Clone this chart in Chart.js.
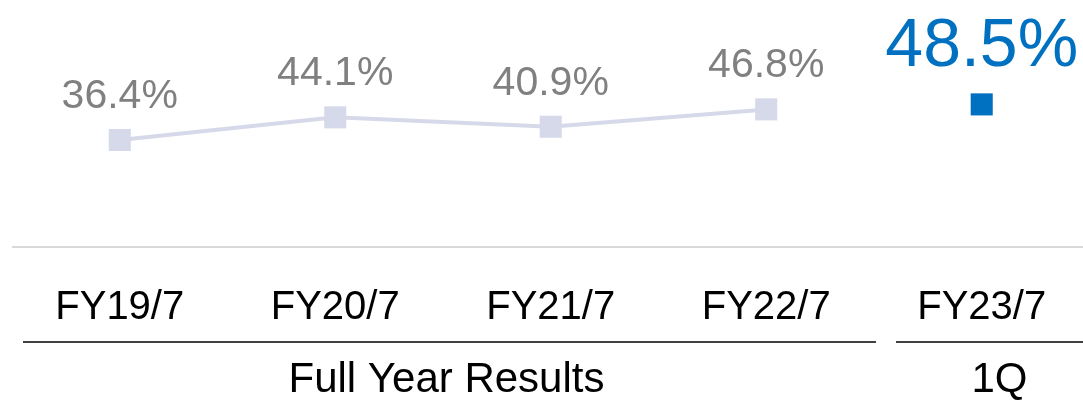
<!DOCTYPE html>
<html>
<head>
<meta charset="utf-8">
<script src="https://cdn.jsdelivr.net/npm/chart.js@4"></script>
<style>
html,body{margin:0;padding:0;background:#fff;}
#wrap{position:relative;width:1083px;height:401px;}
</style>
</head>
<body>
<div id="wrap"><canvas id="c" width="1083" height="401"></canvas></div>
<script>
// ---- data ----
const categories = ['FY19/7', 'FY20/7', 'FY21/7', 'FY22/7', 'FY23/7'];
const fullYearValues = [36.4, 44.1, 40.9, 46.8, null];
const quarterValues = [null, null, null, null, 48.5];
const groupNames = ['Full Year Results', '1Q'];
const groupStart = [0, 4];
const groupEnd = [3, 4];

const FONT = '"Liberation Sans", Arial, Helvetica, sans-serif';

function toXY(arr) {
  return arr.map((v, i) => ({ x: i, y: v })).filter(p => p.y !== null);
}

const labelPlugin = {
  id: 'labels',
  afterDatasetsDraw(chart) {
    const ctx = chart.ctx;
    const xs = chart.scales.x, ys = chart.scales.y;
    ctx.save();
    ctx.textAlign = 'center';
    ctx.textBaseline = 'alphabetic';
    // value labels
    chart.data.datasets.forEach((ds, di) => {
      const st = ds.labelStyle;
      ctx.fillStyle = st.color;
      ctx.font = st.size + 'px ' + FONT;
      ds.data.forEach(p => {
        const px = xs.getPixelForValue(p.x);
        const py = ys.getPixelForValue(p.y);
        ctx.fillText(p.y.toFixed(1) + '%', px, py - st.gap);
      });
    });
    // baseline
    const y0 = ys.getPixelForValue(0);
    ctx.strokeStyle = '#d9d9d9';
    ctx.lineWidth = 2;
    ctx.beginPath();
    ctx.moveTo(xs.left, y0);
    ctx.lineTo(chart.width, y0);
    ctx.stroke();
    // category labels
    ctx.fillStyle = '#000';
    ctx.font = '40px ' + FONT;
    categories.forEach((c, i) => {
      ctx.fillText(c, xs.getPixelForValue(i), 319);
    });
    // group underlines and labels
    const insetL = [11, 22], insetR = [-2, -40];
    const shift = [-3, 10];
    ctx.strokeStyle = '#000';
    ctx.lineWidth = 1.5;
    ctx.font = '42px ' + FONT;
    groupNames.forEach((g, k) => {
      const a = xs.getPixelForValue(groupStart[k] - 0.5) + insetL[k];
      const b = Math.min(chart.width, xs.getPixelForValue(groupEnd[k] + 0.5) - insetR[k]);
      ctx.beginPath();
      ctx.moveTo(a, 342);
      ctx.lineTo(b, 342);
      ctx.stroke();
      ctx.fillText(g, (a + b) / 2 + shift[k], 392);
    });
    ctx.restore();
  }
};

new Chart(document.getElementById('c'), {
  type: 'line',
  data: {
    datasets: [
      {
        data: toXY(fullYearValues),
        borderColor: '#d6d9e9',
        backgroundColor: '#d6d9e9',
        borderWidth: 4,
        pointStyle: 'rect',
        pointRadius: 15.6,
        pointBorderWidth: 0,
        tension: 0,
        clip: false,
        labelStyle: { color: '#808080', size: 41, gap: 32 }
      },
      {
        data: toXY(quarterValues),
        showLine: false,
        borderColor: '#0070c0',
        backgroundColor: '#0070c0',
        pointStyle: 'rect',
        pointRadius: 15.6,
        pointBorderWidth: 0,
        clip: false,
        labelStyle: { color: '#0070c0', size: 68, gap: 38 }
      }
    ]
  },
  options: {
    responsive: false,
    animation: false,
    layout: { autoPadding: false, padding: { left: 12, right: 0, top: 0, bottom: 154 } },
    plugins: { legend: { display: false }, tooltip: { enabled: false } },
    scales: {
      x: { type: 'linear', min: -0.5, max: 4.47, display: false },
      y: { min: 0, max: 84, display: false }
    }
  },
  plugins: [labelPlugin]
});
</script>
</body>
</html>
